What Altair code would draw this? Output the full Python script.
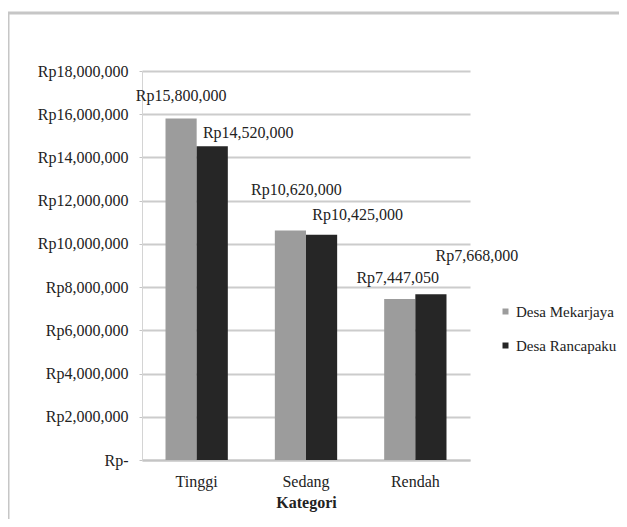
import altair as alt
import pandas as pd

categories = ["Tinggi", "Sedang", "Rendah"]
series = ["Desa Mekarjaya", "Desa Rancapaku"]
mekarjaya = [15800000, 10620000, 7447050]
rancapaku = [14520000, 10425000, 7668000]
y_ticks = [0, 2000000, 4000000, 6000000, 8000000, 10000000, 12000000, 14000000, 16000000, 18000000]

rows = []
for i, c in enumerate(categories):
    rows.append({"Kategori": c, "Desa": series[0], "Nilai": mekarjaya[i]})
    rows.append({"Kategori": c, "Desa": series[1], "Nilai": rancapaku[i]})
df = pd.DataFrame(rows)
df["Label"] = df["Nilai"].map(lambda v: "Rp" + f"{v:,}")

# label offsets (style): (dx, dy) from bar top centre
label_offsets = {
    ("Tinggi", series[0]): (0, -23),
    ("Tinggi", series[1]): (36, -13),
    ("Sedang", series[0]): (6, -40),
    ("Sedang", series[1]): (36, -20),
    ("Rendah", series[0]): (-2, -21),
    ("Rendah", series[1]): (46, -38),
}

FONT = "'Liberation Serif', 'Times New Roman', serif"
colors = ["#9c9c9c", "#262626"]

x_enc = alt.X(
    "Kategori:N", sort=categories,
    scale=alt.Scale(paddingInner=0.43, paddingOuter=0.215),
    axis=alt.Axis(title="Kategori", labelAngle=0, ticks=False, labelPadding=13,
                  titleFontWeight="bold", titlePadding=5, domainColor="#c4c4c4",
                  domainWidth=2, grid=False, labelFont=FONT, titleFont=FONT),
)
xo_enc = alt.XOffset("Desa:N", sort=series, scale=alt.Scale(paddingInner=0, paddingOuter=0))
y_enc = alt.Y(
    "Nilai:Q",
    scale=alt.Scale(domain=[0, 18000000], nice=False),
    axis=alt.Axis(title=None, values=y_ticks, tickSize=3, tickColor="#c4c4c4",
                  labelPadding=11, gridColor="#cccccc", gridWidth=2,
                  domainColor="#d4d4d4", domainWidth=1, labelFont=FONT,
                  labelExpr="datum.value == 0 ? 'Rp-' : 'Rp' + format(datum.value, ',')"),
)

frame = alt.Chart(pd.DataFrame({"a": [0]})).mark_rect(
    fillOpacity=0, stroke="#c6c6c6", strokeWidth=3
).encode(x=alt.value(-134), x2=alt.value(800), y=alt.value(-58), y2=alt.value(800))

bars = alt.Chart(df).mark_bar().encode(
    x=x_enc, xOffset=xo_enc, y=y_enc,
    color=alt.Color("Desa:N", sort=series,
                    scale=alt.Scale(domain=series, range=colors),
                    legend=alt.Legend(title=None, orient="none", legendX=356, legendY=233,
                                      padding=0, symbolType="square", symbolSize=36,
                                      labelFontSize=15, rowPadding=18, labelLimit=300,
                                      labelOffset=3, labelFont=FONT)),
)

labels = []
for (cat, ser), (dx, dy) in label_offsets.items():
    t = alt.Chart(df).transform_filter(
        (alt.datum.Kategori == cat) & (alt.datum.Desa == ser)
    ).mark_text(dx=dx, dy=dy, fontSize=16, font=FONT, baseline="middle", color="#222222").encode(
        x=alt.X("Kategori:N", sort=categories), xOffset=alt.XOffset("Desa:N", sort=series),
        y=alt.Y("Nilai:Q"), text="Label:N",
    )
    labels.append(t)

chart = alt.layer(frame, bars, *labels).properties(
    width=328, height=389,
    autosize=alt.AutoSizeParams(type="none"),
    padding={"left": 134, "top": 63, "right": 149, "bottom": 59},
).configure_view(stroke=None).configure_axis(
    labelFont=FONT, titleFont=FONT, labelFontSize=16, titleFontSize=16,
    labelColor="#222222", titleColor="#222222",
).configure_legend(labelFont=FONT, labelColor="#222222")

chart.save("out.html", embed_options={"renderer": "svg", "actions": False})
